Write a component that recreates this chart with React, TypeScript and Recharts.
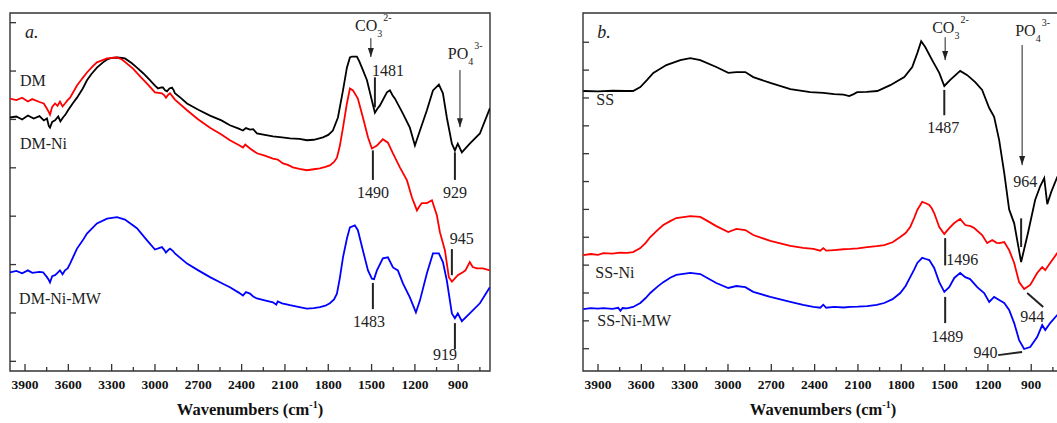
import React from 'react';
import { LineChart, Line, XAxis, YAxis, Label, ReferenceArea, ReferenceLine, ReferenceDot } from 'recharts';

const FONT = '"Liberation Serif", "Times New Roman", serif';
const INK = '#222';

// FTIR spectra, [wavenumber (cm-1), transmittance (a.u.)]
// panel a.
const dm: [number, number][] = [
  [4004, 5.04], [3960, 5.06], [3920, 5.0], [3880, 5.08], [3840, 5.02], [3800, 5.07], [3770, 4.98], [3748, 5.02],
  [3735, 4.86], [3727, 4.83], [3712, 4.95], [3692, 4.98], [3670, 5.06], [3655, 4.96], [3637, 5.04], [3620, 5.1],
  [3602, 5.19], [3570, 5.33], [3540, 5.45], [3500, 5.64], [3471, 5.81], [3440, 5.94], [3402, 6.07], [3360, 6.18],
  [3332, 6.24], [3300, 6.27], [3263, 6.28], [3230, 6.27], [3208, 6.26], [3160, 6.16], [3125, 6.07], [3080, 5.95],
  [3035, 5.81], [3000, 5.7], [2979, 5.64], [2955, 5.66], [2945, 5.66], [2930, 5.6], [2917, 5.58], [2900, 5.64],
  [2882, 5.66], [2870, 5.6], [2862, 5.54], [2820, 5.44], [2778, 5.33], [2700, 5.2], [2619, 5.08], [2540, 4.98],
  [2481, 4.88], [2420, 4.81], [2391, 4.77], [2370, 4.82], [2342, 4.79], [2320, 4.8], [2294, 4.71], [2240, 4.68],
  [2183, 4.65], [2120, 4.63], [2065, 4.61], [2000, 4.6], [1948, 4.57], [1900, 4.58], [1837, 4.63], [1800, 4.68],
  [1768, 4.77], [1733, 5.04], [1698, 5.6], [1671, 6.07], [1650, 6.28], [1636, 6.3], [1602, 6.3], [1585, 6.2],
  [1567, 6.07], [1532, 5.81], [1498, 5.39], [1477, 5.14], [1460, 5.22], [1442, 5.29], [1394, 5.56], [1373, 5.6],
  [1355, 5.5], [1338, 5.43], [1283, 5.12], [1235, 4.83], [1200, 4.46], [1165, 4.77], [1117, 5.19], [1075, 5.6],
  [1034, 5.72], [1006, 5.54], [979, 5.04], [944, 4.5], [923, 4.36], [903, 4.5], [875, 4.32], [820, 4.5],
  [750, 4.71], [681, 5.23],
];
const dmNi: [number, number][] = [
  [4004, 5.43], [3960, 5.4], [3920, 5.45], [3880, 5.37], [3850, 5.42], [3800, 5.36], [3770, 5.33], [3748, 5.22],
  [3735, 5.15], [3727, 5.1], [3712, 5.26], [3692, 5.33], [3675, 5.28], [3658, 5.37], [3640, 5.27], [3623, 5.33],
  [3605, 5.4], [3588, 5.45], [3540, 5.7], [3500, 5.86], [3471, 5.97], [3430, 6.1], [3402, 6.18], [3332, 6.26],
  [3263, 6.28], [3228, 6.24], [3152, 6.05], [3100, 5.88], [3055, 5.74], [3000, 5.56], [2952, 5.54], [2935, 5.5],
  [2924, 5.45], [2905, 5.52], [2896, 5.54], [2875, 5.46], [2862, 5.41], [2778, 5.19], [2700, 5.0], [2619, 4.83],
  [2540, 4.69], [2481, 4.57], [2420, 4.47], [2391, 4.42], [2375, 4.48], [2342, 4.4], [2294, 4.3], [2240, 4.25],
  [2183, 4.19], [2150, 4.17], [2114, 4.09], [2080, 4.06], [2045, 4.01], [2000, 3.98], [1948, 3.95], [1900, 3.97],
  [1858, 3.99], [1820, 4.02], [1789, 4.05], [1760, 4.12], [1740, 4.21], [1720, 4.45], [1698, 4.83], [1671, 5.33],
  [1650, 5.64], [1629, 5.6], [1595, 5.43], [1560, 5.04], [1525, 4.63], [1498, 4.4], [1480, 4.43], [1463, 4.46],
  [1422, 4.59], [1387, 4.52], [1352, 4.3], [1304, 4.01], [1255, 3.74], [1221, 3.39], [1186, 3.12], [1165, 3.22],
  [1152, 3.27], [1117, 3.27], [1082, 3.33], [1048, 3.02], [1027, 2.67], [992, 2.29], [965, 1.74], [944, 1.65],
  [937, 1.67], [903, 1.78], [868, 1.84], [850, 1.88], [820, 2.05], [800, 1.95], [771, 1.92], [729, 1.92],
  [681, 1.88],
];
const dmNiMw: [number, number][] = [
  [4004, 1.84], [3960, 1.87], [3920, 1.82], [3880, 1.88], [3850, 1.83], [3800, 1.85], [3775, 1.84], [3748, 1.74],
  [3735, 1.68], [3727, 1.63], [3712, 1.76], [3692, 1.78], [3675, 1.83], [3658, 1.88], [3640, 1.8], [3623, 1.88],
  [3605, 1.92], [3588, 2.02], [3540, 2.33], [3500, 2.5], [3471, 2.64], [3402, 2.85], [3332, 2.95], [3263, 2.98],
  [3208, 2.93], [3125, 2.75], [3055, 2.5], [3000, 2.31], [2952, 2.36], [2935, 2.3], [2924, 2.25], [2905, 2.31],
  [2896, 2.33], [2875, 2.28], [2862, 2.23], [2778, 2.02], [2700, 1.88], [2619, 1.74], [2540, 1.62], [2481, 1.53],
  [2420, 1.42], [2391, 1.36], [2370, 1.43], [2342, 1.4], [2320, 1.34], [2294, 1.3], [2240, 1.26], [2183, 1.22],
  [2160, 1.17], [2150, 1.24], [2120, 1.2], [2065, 1.16], [2000, 1.12], [1948, 1.09], [1900, 1.1], [1858, 1.12],
  [1820, 1.15], [1789, 1.2], [1760, 1.28], [1740, 1.4], [1720, 1.72], [1698, 2.15], [1670, 2.55], [1650, 2.77],
  [1616, 2.81], [1595, 2.71], [1560, 2.29], [1525, 1.88], [1498, 1.71], [1483, 1.7], [1463, 1.88], [1422, 2.13],
  [1387, 2.15], [1352, 1.94], [1318, 1.88], [1283, 1.61], [1235, 1.32], [1193, 1.01], [1165, 1.26], [1117, 1.82],
  [1075, 2.23], [1034, 2.23], [1006, 2.05], [979, 1.67], [944, 0.99], [923, 0.89], [903, 0.99], [875, 0.83],
  [820, 0.99], [750, 1.2], [681, 1.53],
];

// panel b.
const ss: [number, number][] = [
  [4002, 9.25], [3900, 9.24], [3800, 9.26], [3700, 9.25], [3657, 9.25], [3607, 9.39], [3560, 9.65], [3517, 9.9],
  [3427, 10.18], [3330, 10.36], [3261, 10.43], [3192, 10.36], [3081, 10.11], [2998, 9.9], [2942, 9.93], [2880, 9.93],
  [2825, 9.75], [2707, 9.54], [2568, 9.32], [2430, 9.21], [2340, 9.18], [2264, 9.14], [2200, 9.12], [2160, 9.07],
  [2130, 9.14], [2105, 9.21], [2040, 9.22], [1966, 9.25], [1876, 9.46], [1779, 9.75], [1724, 10.11], [1689, 10.61],
  [1662, 11.04], [1634, 10.83], [1586, 10.36], [1537, 9.9], [1502, 9.43], [1461, 9.65], [1392, 9.97], [1343, 9.82],
  [1288, 9.57], [1240, 9.29], [1191, 8.64], [1157, 8.32], [1122, 7.49], [1087, 6.31], [1053, 5.0], [1018, 4.5],
  [970, 3.11], [921, 4.19], [873, 5.34], [838, 5.83], [810, 6.12], [789, 5.19], [762, 5.62], [720, 6.16],
  [680, 6.5],
];
const ssNi: [number, number][] = [
  [4002, 3.36], [3950, 3.4], [3900, 3.37], [3863, 3.43], [3800, 3.41], [3750, 3.45], [3700, 3.44], [3657, 3.47],
  [3607, 3.61], [3570, 3.8], [3538, 4.01], [3490, 4.25], [3448, 4.44], [3400, 4.58], [3358, 4.69], [3261, 4.76],
  [3192, 4.73], [3140, 4.58], [3081, 4.4], [2998, 4.19], [2942, 4.3], [2880, 4.26], [2825, 4.08], [2707, 3.87],
  [2568, 3.69], [2480, 3.62], [2409, 3.58], [2361, 3.52], [2340, 3.61], [2320, 3.52], [2264, 3.54], [2200, 3.57],
  [2153, 3.58], [2100, 3.6], [2036, 3.65], [1970, 3.68], [1918, 3.72], [1860, 3.82], [1807, 4.01], [1770, 4.15],
  [1738, 4.37], [1710, 4.7], [1689, 4.98], [1655, 5.27], [1630, 5.22], [1606, 5.16], [1590, 5.05], [1572, 4.87],
  [1537, 4.37], [1502, 4.12], [1468, 4.33], [1433, 4.51], [1392, 4.66], [1357, 4.44], [1320, 4.4], [1295, 4.33],
  [1240, 4.08], [1205, 3.79], [1170, 3.9], [1140, 3.8], [1122, 3.79], [1087, 3.83], [1053, 3.54], [1018, 3.08],
  [984, 2.39], [949, 2.14], [907, 2.29], [859, 2.72], [824, 2.93], [803, 2.82], [769, 3.08], [720, 3.43],
  [680, 3.72],
];
const ssNiMw: [number, number][] = [
  [4002, 1.42], [3950, 1.46], [3900, 1.44], [3863, 1.46], [3800, 1.43], [3760, 1.47], [3745, 1.36], [3730, 1.46],
  [3700, 1.45], [3657, 1.5], [3607, 1.64], [3570, 1.82], [3538, 2.0], [3490, 2.22], [3448, 2.39], [3400, 2.55],
  [3358, 2.65], [3261, 2.72], [3192, 2.68], [3140, 2.53], [3081, 2.36], [2998, 2.18], [2942, 2.25], [2880, 2.21],
  [2825, 2.04], [2707, 1.86], [2568, 1.68], [2480, 1.57], [2409, 1.5], [2361, 1.47], [2340, 1.58], [2320, 1.47],
  [2264, 1.5], [2200, 1.48], [2153, 1.5], [2100, 1.51], [2036, 1.53], [1970, 1.57], [1918, 1.64], [1860, 1.78],
  [1807, 2.0], [1770, 2.25], [1738, 2.57], [1710, 2.85], [1689, 3.08], [1655, 3.26], [1630, 3.22], [1606, 3.18],
  [1590, 3.05], [1572, 2.9], [1537, 2.39], [1502, 2.04], [1468, 2.21], [1433, 2.54], [1392, 2.72], [1357, 2.57],
  [1323, 2.5], [1274, 2.21], [1226, 2.0], [1191, 1.68], [1157, 1.86], [1122, 1.75], [1087, 1.64], [1053, 1.39],
  [1018, 0.92], [984, 0.31], [949, -0.01], [907, 0.06], [859, 0.42], [824, 0.85], [803, 0.67], [769, 0.92],
  [720, 1.21], [680, 1.5],
];

const xTicks = [
  3900, 3750, 3600, 3450, 3300, 3150, 3000, 2850, 2700, 2550, 2400, 2250, 2100, 1950, 1800, 1650, 1500, 1350,
  1200, 1050, 900, 750,
];
const xDomain = [680, 4004];

// annotations: [wavenumber, value, text]
type Note = { w: number; v: number; text: string; anchor?: 'start' | 'middle'; italic?: boolean };
type Seg = [number, number, number, number];
type Ion = { w: number; v: number; base: string; sub: string; sup: string };

const notesA: Note[] = [
  { w: 3900, v: 6.68, text: 'a.', anchor: 'start', italic: true },
  { w: 3935, v: 5.69, text: 'DM', anchor: 'start' },
  { w: 3935, v: 4.38, text: 'DM-Ni', anchor: 'start' },
  { w: 3941, v: 1.18, text: 'DM-Ni-MW', anchor: 'start' },
  { w: 1387, v: 5.89, text: '1481' },
  { w: 1491, v: 3.37, text: '1490' },
  { w: 923, v: 3.37, text: '929' },
  { w: 875, v: 2.42, text: '945' },
  { w: 1518, v: 0.71, text: '1483' },
  { w: 992, v: 0.03, text: '919' },
];
const segsA: Seg[] = [
  [1477, 5.87, 1477, 5.25],
  [1491, 4.36, 1491, 3.75],
  [923, 4.32, 923, 3.75],
  [944, 2.32, 944, 1.78],
  [1491, 1.62, 1491, 1.08],
  [923, 0.79, 923, 0.25],
];
const arrowsA: Seg[] = [
  [1505, 6.68, 1505, 6.29],
  [888, 6.02, 888, 4.84],
];
const ionsA: Ion[] = [
  { w: 1615, v: 6.82, base: 'CO', sub: '3', sup: '2-' },
  { w: 972, v: 6.25, base: 'PO', sub: '4', sup: '3-' },
];

const notesB: Note[] = [
  { w: 3905, v: 11.15, text: 'b.', anchor: 'start', italic: true },
  { w: 3912, v: 8.74, text: 'SS', anchor: 'start' },
  { w: 3919, v: 2.53, text: 'SS-Ni', anchor: 'start' },
  { w: 3905, v: 0.81, text: 'SS-Ni-MW', anchor: 'start' },
  { w: 1509, v: 7.74, text: '1487' },
  { w: 942, v: 5.8, text: '964' },
  { w: 1377, v: 3.0, text: '1496' },
  { w: 893, v: 0.96, text: '944' },
  { w: 1481, v: 0.24, text: '1489' },
  { w: 1217, v: -0.33, text: '940' },
];
const segsB: Seg[] = [
  [1502, 9.29, 1502, 8.38],
  [970, 4.68, 970, 3.65],
  [1496, 3.97, 1496, 2.99],
  [928, 2.0, 817, 1.5],
  [1496, 1.86, 1496, 0.92],
  [1129, -0.23, 963, -0.12],
];
const arrowsB: Seg[] = [
  [1496, 11.18, 1496, 10.36],
  [963, 10.9, 963, 6.59],
];
const ionsB: Ion[] = [
  { w: 1586, v: 11.33, base: 'CO', sub: '3', sup: '2-' },
  { w: 1011, v: 11.22, base: 'PO', sub: '4', sup: '3-' },
];

const toRows = (pts: [number, number][]) => pts.map(([w, v]) => ({ w, v }));

const XTick = (props: any) => {
  const { x, y, payload } = props;
  const major = payload.value % 300 === 0;
  return (
    <g>
      <line x1={x} y1={y} x2={x} y2={y - (major ? 7 : 4)} stroke="#333" strokeWidth={1.3} />
      {major && (
        <text x={x} y={y + 18} textAnchor="middle" fontFamily={FONT} fontWeight="bold" fontSize={13.5} fill="#111">
          {payload.value}
        </text>
      )}
    </g>
  );
};

const AxisTitle = (props: any) => {
  const { x, y, width, height } = props.viewBox;
  return (
    <text x={x + width / 2} y={y + height + 14} textAnchor="middle" fontFamily={FONT} fontWeight="bold" fontSize={16.5} fill="#111">
      Wavenumbers (cm<tspan fontSize={10} dy={-7}>-1</tspan><tspan dy={7}>)</tspan>
    </text>
  );
};

function Panel({ left, series, yDomain, yTicks, notes, segs, arrows, ions }: any) {
  return (
    <div style={{ position: 'absolute', left, top: 0 }}>
      <LineChart width={510} height={423} margin={{ top: 13, right: 20, bottom: 22, left: 10 }}>
        <XAxis
          type="number"
          dataKey="w"
          domain={xDomain}
          reversed
          allowDataOverflow
          ticks={xTicks}
          interval={0}
          tickSize={0}
          tickMargin={0}
          tickLine={false}
          axisLine={false}
          height={30}
          tick={<XTick />}
        >
          <Label content={<AxisTitle />} />
        </XAxis>
        <YAxis type="number" domain={yDomain} allowDataOverflow width={0} tick={false} tickLine={false} axisLine={false} />
        <ReferenceArea x1={xDomain[0]} x2={xDomain[1]} y1={yDomain[0]} y2={yDomain[1]} fill="none" stroke="#333" strokeWidth={1.4} />
        {/* inward ticks on the left frame edge */}
        {yTicks.map((t: number) => (
          <ReferenceDot
            key={`y${t}`}
            x={xDomain[1]}
            y={t}
            r={0}
            shape={(p: any) => <line x1={p.cx} y1={p.cy} x2={p.cx + 6} y2={p.cy} stroke="#333" strokeWidth={1.3} />}
          />
        ))}
        {segs.map((s: Seg, i: number) => (
          <ReferenceLine key={`s${i}`} segment={[{ x: s[0], y: s[1] }, { x: s[2], y: s[3] }]} stroke={INK} strokeWidth={2} />
        ))}
        {arrows.map((s: Seg, i: number) => (
          <ReferenceLine key={`a${i}`} segment={[{ x: s[0], y: s[1] }, { x: s[2], y: s[3] }]} stroke={INK} strokeWidth={1} />
        ))}
        {arrows.map((s: Seg, i: number) => (
          <ReferenceDot
            key={`h${i}`}
            x={s[2]}
            y={s[3]}
            r={0}
            shape={(p: any) => (
              <polygon points={`${p.cx - 3},${p.cy - 9} ${p.cx + 3},${p.cy - 9} ${p.cx},${p.cy}`} fill={INK} />
            )}
          />
        ))}
        {series.map((s: any) => (
          <Line
            key={s.name}
            data={toRows(s.pts)}
            dataKey="v"
            name={s.name}
            stroke={s.color}
            strokeWidth={1.8}
            dot={false}
            type="linear"
            isAnimationActive={false}
          />
        ))}
        {notes.map((n: Note, i: number) => (
          <ReferenceDot
            key={`n${i}`}
            x={n.w}
            y={n.v}
            r={0}
            shape={(p: any) => (
              <text
                x={p.cx}
                y={p.cy}
                textAnchor={n.anchor || 'middle'}
                fontFamily={FONT}
                fontSize={n.italic ? 18 : 16}
                fontStyle={n.italic ? 'italic' : 'normal'}
                fill={INK}
              >
                {n.text}
              </text>
            )}
          />
        ))}
        {ions.map((n: Ion, i: number) => (
          <ReferenceDot
            key={`i${i}`}
            x={n.w}
            y={n.v}
            r={0}
            shape={(p: any) => (
              <text x={p.cx} y={p.cy} fontFamily={FONT} fontSize={16} fill={INK}>
                {n.base}
                <tspan fontSize={10} dy={6}>{n.sub}</tspan>
                <tspan fontSize={10} dy={-16} dx={1}>{n.sup}</tspan>
              </text>
            )}
          />
        ))}
      </LineChart>
    </div>
  );
}

export default function App() {
  return (
    <div style={{ position: 'fixed', left: 0, top: 0, width: 1057, height: 423, overflow: 'hidden', background: '#fff' }}>
      <Panel
        left={0}
        series={[
          { name: 'DM', pts: dm, color: '#000000' },
          { name: 'DM-Ni', pts: dmNi, color: '#ff0000' },
          { name: 'DM-Ni-MW', pts: dmNiMw, color: '#0000ff' },
        ]}
        yDomain={[-0.2, 7.2]}
        yTicks={[0, 1, 2, 3, 4, 5, 6, 7]}
        notes={notesA}
        segs={segsA}
        arrows={arrowsA}
        ions={ionsA}
      />
      <Panel
        left={573}
        series={[
          { name: 'SS', pts: ss, color: '#000000' },
          { name: 'SS-Ni', pts: ssNi, color: '#ff0000' },
          { name: 'SS-Ni-MW', pts: ssNiMw, color: '#0000ff' },
        ]}
        yDomain={[-0.8, 12.05]}
        yTicks={[0, 1, 2, 3, 4, 5, 6, 7, 8, 9, 10, 11]}
        notes={notesB}
        segs={segsB}
        arrows={arrowsB}
        ions={ionsB}
      />
    </div>
  );
}
